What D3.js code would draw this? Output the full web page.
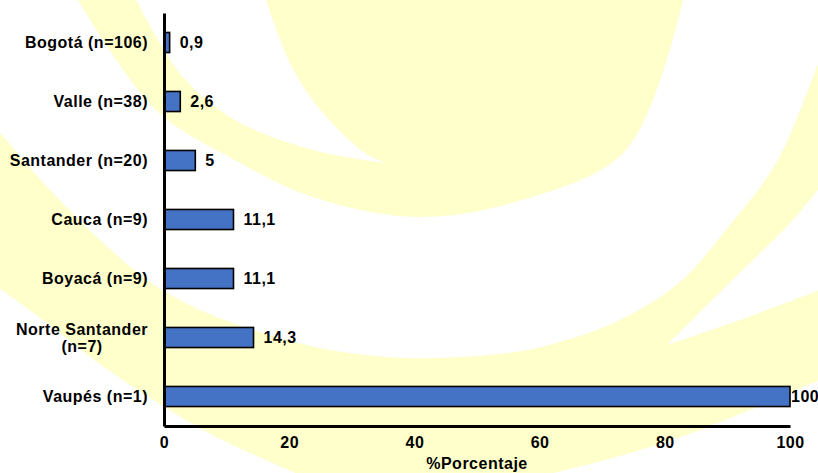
<!DOCTYPE html>
<html lang="es">
<head>
<meta charset="UTF-8" />
<title>Porcentaje por departamento</title>
<script src="https://d3js.org/d3.v7.min.js"></script>
<style>
  body { margin: 0; background: #fff; }
  svg { display: block; }
  text {
    font-family: "Liberation Sans", Arial, sans-serif;
    font-weight: bold;
    font-size: 16px;
    letter-spacing: 0.5px;
    fill: #000;
  }
</style>
</head>
<body>
<script>
const categories = [
  "Bogotá (n=106)",
  "Valle (n=38)",
  "Santander (n=20)",
  "Cauca (n=9)",
  "Boyacá (n=9)",
  "Norte Santander (n=7)",
  "Vaupés (n=1)"
];
const values = [0.9, 2.6, 5, 11.1, 11.1, 14.3, 100];
const xTicks = [0, 20, 40, 60, 80, 100];
const xTitle = "%Porcentaje";

const width = 818, height = 473;
const plot = { left: 164, right: 790, top: 13, bottom: 426 };

const svg = d3.select("body").append("svg")
  .attr("width", width)
  .attr("height", height);

// pale yellow logo behind the chart
const curve = d3.line().curve(d3.curveCatmullRom.alpha(0.5));
function outline(...edges) {
  return edges.map((e, i) => {
    const d = curve(e);
    return i ? d.replace(/^M/, "L") : d;
  }).join("") + "Z";
}
const bg = svg.append("g").attr("class", "logo");
bg.append("path")
  .attr("d", outline([[78,0],[156,110],[235,160],[313,197],[417,217],[522,200],[626,150],[683,0]]))
  .attr("fill", "#ffffcc");
bg.append("path")
  .attr("d", outline(
    [[136,0],[183,77],[235,120],[313,150],[386,163]],
    [[386,163],[365,153],[323,113],[292,67],[266,0]]))
  .attr("fill", "#fff");
bg.append("path")
  .attr("d", outline(
    [[-2,130],[50,190],[100,240],[150,282],[200,310],[260,332],[330,350],[408,358],
     [508,353],[560,342],[620,320],[680,282],[730,225],[778,160],[820,58]],
    [[820,187],[793,220],[750,263],[710,302],[667,345]],
    [[667,345],[740,320],[820,290]],
    [[820,380],[700,430],[620,456],[545,475]],
    [[300,475],[209,433],[104,367],[50,325],[-2,287]]))
  .attr("fill", "#ffffcc");

const x = d3.scaleLinear().domain([0, 100]).range([plot.left, plot.right]);
const y = d3.scaleBand().domain(categories)
  .range([plot.top, plot.bottom])
  .paddingInner(0.66)
  .paddingOuter(0.33);

const rows = categories.map((c, i) => ({ cat: c, value: values[i] }));

svg.append("g").attr("class", "bars")
  .selectAll("rect")
  .data(rows)
  .join("rect")
  .attr("x", x(0))
  .attr("y", d => y(d.cat))
  .attr("width", d => x(d.value) - x(0))
  .attr("height", y.bandwidth())
  .attr("fill", "#4472c4")
  .attr("stroke", "#000")
  .attr("stroke-width", 1.6);

svg.append("g").attr("class", "values")
  .selectAll("text")
  .data(rows)
  .join("text")
  .attr("x", d => Math.min(x(d.value) + 10, plot.right + 1))
  .attr("y", d => y(d.cat) + y.bandwidth() / 2)
  .attr("dy", "0.35em")
  .text(d => String(d.value).replace(".", ","));

// axes
const yAxis = svg.append("g")
  .attr("transform", `translate(${plot.left},0)`)
  .call(d3.axisLeft(y).tickSize(0).tickPadding(16));

const xAxis = svg.append("g")
  .attr("transform", `translate(0,${plot.bottom})`)
  .call(d3.axisBottom(x).tickValues(xTicks).tickSize(0).tickPadding(11));

[yAxis, xAxis].forEach(a => a.select(".domain")
  .attr("stroke", "#000")
  .attr("stroke-width", 3));

// long category names go on two centred lines
yAxis.selectAll(".tick text").each(function() {
  const t = d3.select(this);
  if (this.getComputedTextLength() < 150) return;
  const words = t.text().split(" ");
  const lines = [];
  let line = [];
  t.text(null);
  const probe = t.append("tspan");
  words.forEach(w => {
    probe.text([...line, w].join(" "));
    if (line.length && probe.node().getComputedTextLength() > 140) {
      lines.push(line.join(" "));
      line = [w];
    } else {
      line.push(w);
    }
  });
  lines.push(line.join(" "));
  const w0 = d3.max(lines, l => { probe.text(l); return probe.node().getComputedTextLength(); });
  probe.remove();
  t.attr("text-anchor", "middle").attr("dy", null);
  lines.forEach((l, i) => {
    t.append("tspan")
      .attr("x", -16 - w0 / 2)
      .attr("y", (i - (lines.length - 1) / 2) * 17)
      .attr("dy", "0.35em")
      .text(l);
  });
});

svg.append("text")
  .attr("x", (plot.left + plot.right) / 2)
  .attr("y", 463)
  .attr("dy", "0.35em")
  .attr("text-anchor", "middle")
  .text(xTitle);
</script>
</body>
</html>
